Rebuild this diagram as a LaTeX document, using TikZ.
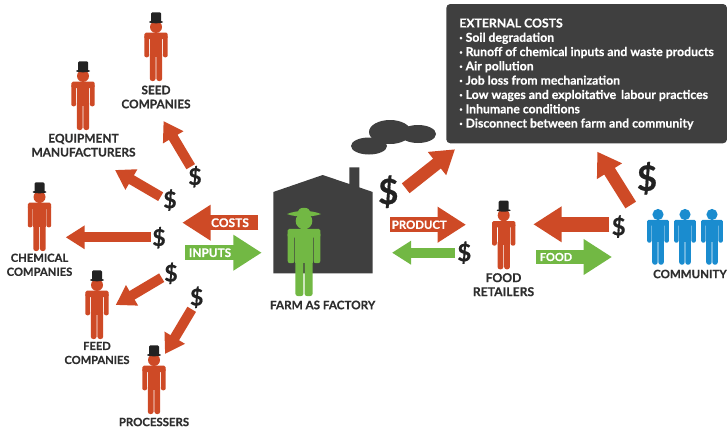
\documentclass[tikz,border=0pt]{standalone}
\usepackage{fontspec}
\setmainfont{Lato}[BoldFeatures={FakeBold=0.5}]
\usetikzlibrary{arrows.meta}
\definecolor{redc}{HTML}{CE4A26}
\definecolor{greenc}{HTML}{72B844}
\definecolor{bluec}{HTML}{1A8CCF}
\definecolor{darkc}{HTML}{3F3F3F}
\definecolor{inkc}{HTML}{2E2E2E}
\definecolor{hatc}{HTML}{222222}
\tikzset{
  pics/person/.style={code={
    \fill[#1] (0,0) circle (6);
    \fill[#1,rounded corners=1.5] (-11.7,5.7) rectangle (11.7,12);
    \fill[#1,rounded corners=2] (-11.7,8) rectangle (-6.9,30.3);
    \fill[#1,rounded corners=2] (6.9,8) rectangle (11.7,30.3);
    \fill[#1] (-6.2,8) rectangle (6.2,30);
    \fill[#1,rounded corners=2.4] (-6.2,25) rectangle (-0.4,54);
    \fill[#1,rounded corners=2.4] (0.4,25) rectangle (6.2,54);
  }},
  pics/tophat/.style={code={
    \fill[hatc] (0,-5) ellipse (7 and 1.3);
    \fill[hatc,rounded corners=1.2] (-5,-5) rectangle (5,-14.7);
  }},
  pics/farmhat/.style={code={
    \fill[greenc] (-12.3,-5) .. controls (-5,-8) and (5,-8) .. (12.3,-5) .. controls (5,-2.5) and (-5,-2.5) .. cycle;
    \fill[greenc] (0,-6.5) ellipse (4.6 and 3);
  }},
  lbl/.style={font=\fontsize{#1}{14}\selectfont\bfseries,text=inkc,align=center,inner sep=0pt,outer sep=0pt},
  lbl/.default=11.7,
  inlbl/.style={font=\fontsize{#1}{13}\selectfont\bfseries,text=white,inner sep=0pt,outer sep=0pt},
  money/.style={font=\fontsize{#1}{#1}\selectfont\bfseries,text=hatc,inner sep=0pt,outer sep=0pt},
  thin arrow/.style={draw=#1,line width=10pt,-{Triangle[length=19pt,width=22.5pt]}},
  mid arrow/.style={draw=#1,line width=12.5pt,-{Triangle[length=23pt,width=28pt]}},
  big arrow/.style={draw=#1,line width=14.5pt,-{Triangle[length=28.4pt,width=34pt]}},
}
\begin{document}
\begin{tikzpicture}[x=1pt,y=-1pt]
\useasboundingbox (0,0) rectangle (727,431);
% box
\node[fill=darkc,rounded corners=4pt,minimum width=280.7pt,minimum height=139.3pt,inner sep=0pt,outer sep=0pt] (costbox) at (586.65,73.65) {};
\node[anchor=north west,font=\fontsize{12.25}{14.3}\selectfont\bfseries,text=white,align=left,inner sep=0pt,outer sep=0pt] (costtext) at (459.3,18.5) {EXTERNAL COSTS\\· Soil degradation\\· Runoff of chemical inputs and waste products\\· Air pollution\\· Job loss from mechanization\\· Low wages and exploitative\hspace{2pt} labour practices\\· Inhumane conditions\\· Disconnect between farm and community};
% cloud
\fill[darkc] (390,132) ellipse (21 and 12);
\fill[darkc] (418,134) ellipse (18 and 9);
\fill[darkc] (369,146) ellipse (18 and 8.5);
% house
\fill[darkc] (273.3,273.3) -- (273.3,192) -- (322.7,175) -- (349.3,184) -- (349.3,167.3) -- (359.3,167.3) -- (359.3,187.4) -- (372.7,192) -- (372.7,273.3) -- cycle;
% people
\pic at (156,27) {person=redc};   \pic at (156,27) {tophat};
\pic at (83,76) {person=redc};    \pic at (83,76) {tophat};
\pic at (39.5,197) {person=redc}; \pic at (39.5,197) {tophat};
\pic at (97,285) {person=redc};   \pic at (97,285) {tophat};
\pic at (154,360) {person=redc};  \pic at (154,360) {tophat};
\pic at (503.7,215.3) {person=redc}; \pic at (503.7,215.3) {tophat};
\pic[scale=.93] at (658,214.5) {person=bluec};
\pic[scale=.93] at (685,214.5) {person=bluec};
\pic[scale=.93] at (712,214.5) {person=bluec};
\pic[scale=1.39] at (304,221) {person=greenc};
\pic[scale=1.39] at (304,221) {farmhat};
% labels
\node[lbl=11.8] (seedl) at (156,97) {SEED\\COMPANIES};
\node[lbl=11.9] (equipl) at (83.5,145.2) {EQUIPMENT\\MANUFACTURERS};
\node[lbl=11.2] (chemical) at (39.5,264.8) {CHEMICAL\\COMPANIES};
\node[lbl=11.1] (feedl) at (97,353) {FEED\\COMPANIES};
\node[lbl=11.4] (procl) at (154,422) {PROCESSERS};
\node[lbl=11.7] (farml) at (322.7,305) {FARM AS FACTORY};
\node[lbl=12.2] (retaill) at (503.5,284.7) {FOOD\\RETAILERS};
\node[lbl=11.5] (commun) at (690,274) {COMMUNITY};
% dollar signs
\node[money=23] (d1) at (195,176.7) {\$};
\node[money=23] (d2) at (170,200) {\$};
\node[money=23] (d3) at (159,237.7) {\$};
\node[money=23] (d4) at (171,273.3) {\$};
\node[money=23] (d5) at (196.7,297.3) {\$};
\node[money=35] (d6) at (388.3,191.7) {\$};
\node[money=24] (d7) at (464.3,252.7) {\$};
\node[money=24] (d8) at (618.7,226.7) {\$};
\node[money=35] (d9) at (647,178.3) {\$};
% arrow ends
\coordinate (s1) at (190.7,166.7); \coordinate (t1) at (163.5,121);
\coordinate (s2) at (160.7,196.7); \coordinate (t2) at (115,170);
\coordinate (s3) at (150.7,237.3); \coordinate (t3) at (65.7,237.3);
\coordinate (s4) at (161.7,277.7); \coordinate (t4) at (115.7,305);
\coordinate (s5) at (191.7,309.3); \coordinate (t5) at (165,354);
\coordinate (s6) at (258.3,222.7); \coordinate (t6) at (182.3,222.7);
\coordinate (s7) at (185.3,252.7); \coordinate (t7) at (261.7,252.7);
\coordinate (s8) at (405.7,188.3); \coordinate (t8) at (455,149.3);
\coordinate (s9) at (390,224.7);   \coordinate (t9) at (466,224.7);
\coordinate (s10) at (455,252.7);  \coordinate (t10) at (392,252.7);
\coordinate (s11) at (609.3,224.3);\coordinate (t11) at (533.3,224.3);
\coordinate (s12) at (536,257);    \coordinate (t12) at (612,257);
\coordinate (s13) at (630.7,205);  \coordinate (t13) at (597.3,151.7);
\draw[thin arrow=redc] (s1) -- (t1);
\draw[thin arrow=redc] (s2) -- (t2);
\draw[thin arrow=redc] (s3) -- (t3);
\draw[thin arrow=redc] (s4) -- (t4);
\draw[thin arrow=redc] (s5) -- (t5);
\draw[big arrow=redc] (s6) -- (t6);
\draw[big arrow=greenc] (s7) -- (t7);
\draw[mid arrow=redc] (s8) -- (t8);
\draw[big arrow=redc] (s9) -- (t9);
\draw[thin arrow=greenc] (s10) -- (t10);
\draw[big arrow=redc] (s11) -- (t11);
\draw[big arrow=greenc] (s12) -- (t12);
\draw[mid arrow=redc] (s13) -- (t13);
\node[inlbl=12] (costsl) at (230,222.7) {COSTS};
\node[inlbl=11.8] (inputsl) at (210,252.7) {INPUTS};
\node[inlbl=11.4] (productl) at (419.3,224.7) {PRODUCT};
\node[inlbl=11] (foodl) at (556,257) {FOOD};
\end{tikzpicture}
\end{document}
